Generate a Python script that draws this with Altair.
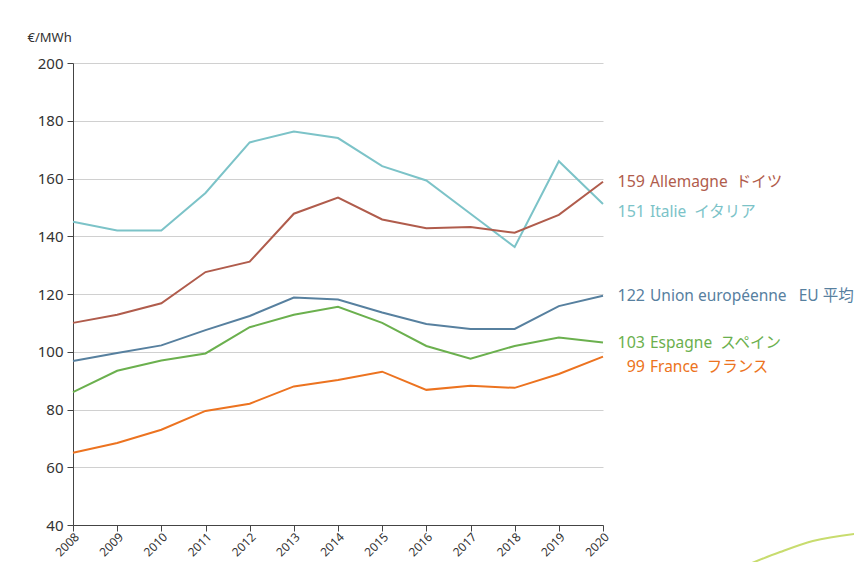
import altair as alt
import pandas as pd

years = list(range(2008, 2021))
italy = [145, 142, 142, 155, 172.5, 176.3, 174, 164.3, 159.3, 147.8, 136.3, 166, 151.2]
germany = [110, 112.8, 116.8, 127.6, 131.2, 147.8, 153.4, 145.8, 142.8, 143.2, 141.2, 147.4, 158.9]
eu = [96.8, 99.6, 102.2, 107.5, 112.4, 118.8, 118.1, 113.6, 109.6, 107.9, 107.9, 115.8, 119.4]
spain = [86, 93.4, 97, 99.4, 108.5, 112.8, 115.6, 110, 102, 97.6, 102, 104.9, 103.2]
france = [65, 68.4, 73, 79.5, 82, 88, 90.2, 93.1, 86.8, 88.2, 87.5, 92.3, 98.3]

series_names = ["Italie", "Allemagne", "Union européenne", "Espagne", "France"]
series_values = [italy, germany, eu, spain, france]
colors = ["#7cc3c8", "#b05c4c", "#57809f", "#6bb04e", "#ec7320"]

label_nums = ["151", "159", "122", "103", "99"]
label_texts = ["Italie\u00a0\u00a0イタリア", "Allemagne\u00a0\u00a0ドイツ",
               "Union européenne\u00a0\u00a0\u00a0EU 平均", "Espagne\u00a0\u00a0スペイン",
               "France\u00a0\u00a0フランス"]
label_y = [148.4, 158.8, 119.3, 103.0, 94.7]

deco_x = [2022.99, 2024.01, 2024.75, 2025.86]
deco_y = [24.42, 30.65, 34.46, 37.23]

rows = []
for name, vals in zip(series_names, series_values):
    for y, v in zip(years, vals):
        rows.append({"year": y, "value": v, "series": name})
df = pd.DataFrame(rows)

lab = pd.DataFrame({"series": series_names, "num": label_nums, "text": label_texts,
                    "y": label_y, "year": [2020] * 5})
deco = pd.DataFrame({"x": deco_x, "y": deco_y})

FONT = "Noto Sans, Noto Sans CJK JP, sans-serif"
color_scale = alt.Scale(domain=series_names, range=colors)
xs = alt.Scale(domain=[2008, 2020], nice=False, zero=False)
ys = alt.Scale(domain=[40, 200], nice=False, zero=False)

x_axis = alt.Axis(values=years, format="d", labelAngle=-45, labelFontSize=12, labelColor="#333",
                  tickSize=6, tickColor="#444", domainColor="#444", grid=False, title=None,
                  labelFont=FONT, labelPadding=0)
y_axis = alt.Axis(values=list(range(40, 201, 20)), labelFontSize=15, labelColor="#333",
                  tickSize=6, tickColor="#444", domainColor="#444", gridColor="#d0d0d0",
                  title="€/MWh", titleAngle=0, titleAlign="left", titleBaseline="middle",
                  titleX=-46, titleY=-26, titleFontSize=13, titleFontWeight="normal",
                  titleColor="#333", titleFont=FONT, labelFont=FONT, labelPadding=4)

lines = alt.Chart(df).mark_line(strokeWidth=2).encode(
    x=alt.X("year:Q", scale=xs, axis=x_axis),
    y=alt.Y("value:Q", scale=ys, axis=y_axis),
    color=alt.Color("series:N", scale=color_scale, legend=None),
    detail="series:N",
)

nums = alt.Chart(lab).mark_text(align="right", baseline="middle", dx=42, fontSize=16, font=FONT).encode(
    x=alt.X("year:Q", scale=xs),
    y=alt.Y("y:Q", scale=ys),
    text="num:N",
    color=alt.Color("series:N", scale=color_scale, legend=None),
)
names = alt.Chart(lab).mark_text(align="left", baseline="middle", dx=47, fontSize=15.5, font=FONT).encode(
    x=alt.X("year:Q", scale=xs),
    y=alt.Y("y:Q", scale=ys),
    text="text:N",
    color=alt.Color("series:N", scale=color_scale, legend=None),
)
arc = alt.Chart(deco).mark_line(strokeWidth=2, color="#c8dc6e", interpolate="monotone", clip=False).encode(
    x=alt.X("x:Q", scale=xs),
    y=alt.Y("y:Q", scale=ys),
)

chart = alt.layer(lines, nums, names, arc).properties(
    width=530, height=462,
    autosize=alt.AutoSizeParams(type="none"),
    padding={"left": 65, "top": 55, "right": 251, "bottom": 37},
).configure(font=FONT).configure_view(stroke=None)

chart.save("out.html", embed_options={"renderer": "svg", "actions": False})
